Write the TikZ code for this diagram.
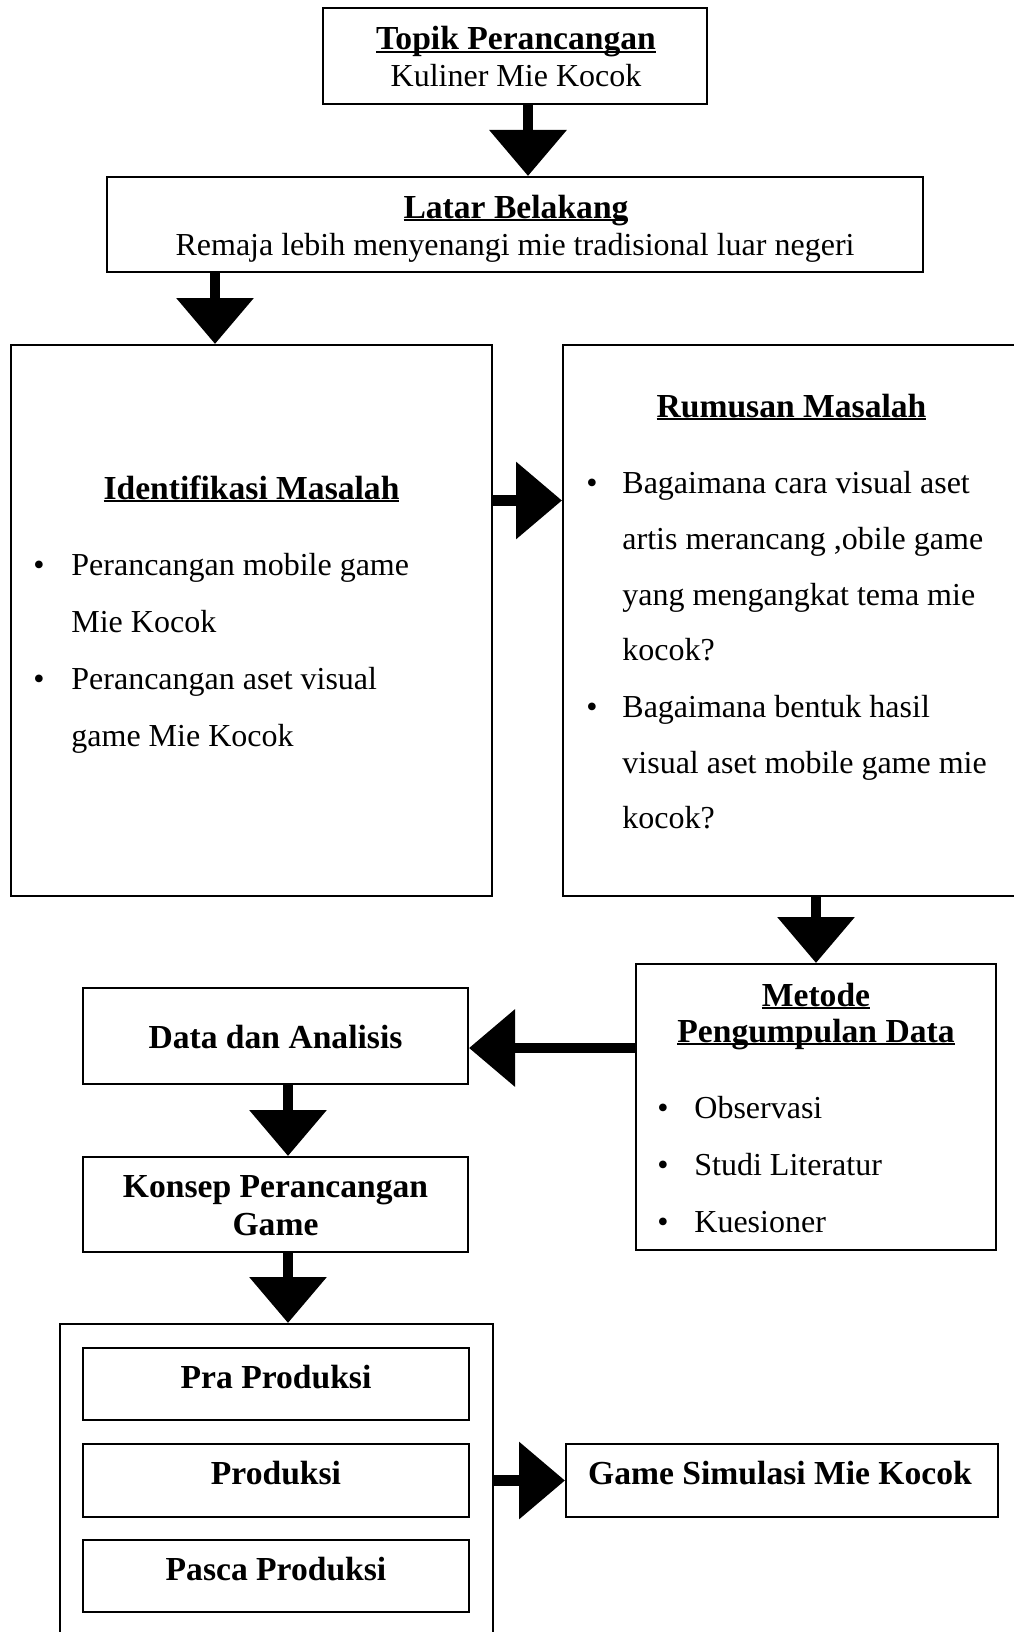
\documentclass[tikz,border=0pt]{standalone}
\usepackage{fontspec}
\setmainfont{Liberation Serif}
\usetikzlibrary{arrows.meta}
\newcommand{\ulhead}[1]{\setbox0\hbox{#1}\rlap{\rule[-1.5pt]{\wd0}{1.2pt}}\box0}

\begin{document}
\begin{tikzpicture}[x=0.5pt, y=-0.5pt,
  boxed/.style={draw, line width=1pt, inner sep=0pt},
  fatarrow/.style={line width=5.25pt, -{Triangle[width=37.5pt,length=23pt]}},
  headtxt/.style={inner sep=0pt, anchor=base, font=\fontsize{16.8}{20}\selectfont\bfseries},
  bodytxt/.style={inner sep=0pt, anchor=base, font=\fontsize{16}{19}\selectfont},
  listtxt/.style={bodytxt, anchor=base west}]

	\useasboundingbox (0,0) rectangle (1013,1632);

	%%%%% KOTAK %%%%%
	\node[boxed, minimum width=192pt, minimum height=48pt] (topik) at (515,56) {};
	\node[boxed, minimum width=408pt, minimum height=47.5pt] (latar) at (515,224.5) {};
	\node[boxed, minimum width=240.5pt, minimum height=275.5pt] (ident) at (251.5,620.5) {};
	\node[boxed, minimum width=233.5pt, minimum height=275.5pt] (rumus) at (796.5,620.5) {};
	\node[boxed, minimum width=180pt, minimum height=143pt] (metode) at (816,1107) {};
	\node[boxed, minimum width=192.5pt, minimum height=48pt] (data) at (275.5,1036) {};
	\node[boxed, minimum width=192.5pt, minimum height=47.5pt] (konsep) at (275.5,1204.5) {};
	\node[boxed, minimum width=216.5pt, minimum height=168pt] (tahap) at (276.5,1492) {};
	\node[boxed, minimum width=193pt, minimum height=36pt] (pra) at (276,1384) {};
	\node[boxed, minimum width=193pt, minimum height=36.5pt] (prod) at (276,1480.5) {};
	\node[boxed, minimum width=193pt, minimum height=36pt] (pasca) at (276,1576) {};
	\node[boxed, minimum width=216pt, minimum height=36.5pt] (game) at (782,1480.5) {};

	%%%%% TEKS %%%%%
	\node[headtxt] (topikjudul) at (516,50) {\ulhead{Topik Perancangan}};
	\node[bodytxt] (topikisi) at (516,87) {Kuliner Mie Kocok};
	\node[headtxt] (latarjudul) at (516,218) {\ulhead{Latar Belakang}};
	\node[bodytxt] (latarisi) at (515,255) {Remaja lebih menyenangi mie tradisional luar negeri};

	\node[headtxt] (identjudul) at (251.5,499) {\ulhead{Identifikasi Masalah}};
	\node[bodytxt] (identb1) at (39,575) {•};
	\node[listtxt] (identl1) at (71,575) {Perancangan mobile game};
	\node[listtxt] (identl2) at (71,632) {Mie Kocok};
	\node[bodytxt] (identb2) at (39,689) {•};
	\node[listtxt] (identl3) at (71,689) {Perancangan aset visual};
	\node[listtxt] (identl4) at (71,746) {game Mie Kocok};

	\node[headtxt] (rumusjudul) at (791.5,417) {\ulhead{Rumusan Masalah}};
	\node[bodytxt] (rumusb1) at (592,493) {•};
	\node[listtxt] (rumusl1) at (622,493) {Bagaimana cara visual aset};
	\node[listtxt] (rumusl2) at (622,549) {artis merancang ,obile game};
	\node[listtxt] (rumusl3) at (622,605) {yang mengangkat tema mie};
	\node[listtxt] (rumusl4) at (622,660) {kocok?};
	\node[bodytxt] (rumusb2) at (592,717) {•};
	\node[listtxt] (rumusl5) at (622,717) {Bagaimana bentuk hasil};
	\node[listtxt] (rumusl6) at (622,773) {visual aset mobile game mie};
	\node[listtxt] (rumusl7) at (622,828) {kocok?};

	\node[headtxt] (metodejudul1) at (816,1006) {\ulhead{Metode}};
	\node[headtxt] (metodejudul2) at (816,1042) {\ulhead{Pengumpulan Data}};
	\node[bodytxt] (metodeb1) at (663,1118) {•};
	\node[listtxt] (metodel1) at (694,1118) {Observasi};
	\node[bodytxt] (metodeb2) at (663,1175) {•};
	\node[listtxt] (metodel2) at (694,1175) {Studi Literatur};
	\node[bodytxt] (metodeb3) at (663,1232) {•};
	\node[listtxt] (metodel3) at (694,1232) {Kuesioner};

	\node[headtxt] (datajudul) at (275.5,1048) {Data dan Analisis};
	\node[headtxt] (konsepjudul1) at (275.5,1197) {Konsep Perancangan};
	\node[headtxt] (konsepjudul2) at (275.5,1235) {Game};
	\node[headtxt] (prajudul) at (276,1388) {Pra Produksi};
	\node[headtxt] (prodjudul) at (276,1484) {Produksi};
	\node[headtxt] (pascajudul) at (276,1580) {Pasca Produksi};
	\node[headtxt] (gamejudul) at (780,1484) {Game Simulasi Mie Kocok};

	%%%%% PANAH %%%%%
	\draw[fatarrow] ([xshift=6.5pt]topik.south) -- ([xshift=6.5pt]topik.south |- latar.north);
	\draw[fatarrow] ([xshift=-18.25pt]ident.north |- latar.south) -- ([xshift=-18.25pt]ident.north);
	\draw[fatarrow] ([yshift=60pt]ident.east) -- ([yshift=60pt]ident.east -| rumus.west);
	\draw[fatarrow] (metode.north |- rumus.south) -- (metode.north);
	\draw[fatarrow] ([yshift=29.5pt]metode.west) -- ([yshift=29.5pt]metode.west -| data.east);
	\draw[fatarrow] ([xshift=6.25pt]data.south) -- ([xshift=6.25pt]konsep.north);
	\draw[fatarrow] ([xshift=6.25pt]konsep.south) -- ([xshift=6.25pt]konsep.south |- tahap.north);
	\draw[fatarrow] (tahap.east |- game.west) -- (game.west);

\end{tikzpicture}
\end{document}
